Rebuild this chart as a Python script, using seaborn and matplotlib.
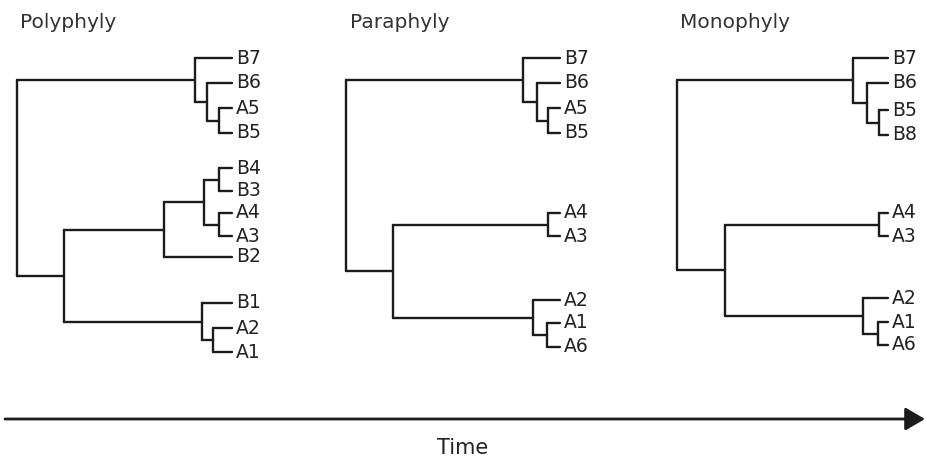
import pandas as pd
import matplotlib
matplotlib.use("Agg")
import matplotlib.pyplot as plt
from matplotlib.patches import FancyArrowPatch
import seaborn as sns

sns.set_theme(style='white')
plt.rcParams['font.family'] = ['DejaVu Sans']

# tips sit at depth 100 (present), root at depth 0
titles = ['Polyphyly', 'Paraphyly', 'Monophyly']

poly_leaves = ['B7', 'B6', 'A5', 'B5', 'B4', 'B3', 'A4', 'A3', 'B2', 'B1', 'A2', 'A1']
poly_leaf_y = [58, 83, 108, 133, 168, 191, 213, 236, 257, 303, 328, 352]
# (node depth, [children]) ; ints are leaf indices
poly_tree = (0, [(82.8, [0, (88.4, [1, (94.0, [2, 3])])]),
                 (21.9, [(68.4, [(87.0, [(94.0, [4, 5]), (94.0, [6, 7])]), 8]),
                         (86.0, [9, (91.2, [10, 11])])])])

para_leaves = ['B7', 'B6', 'A5', 'B5', 'A4', 'A3', 'A2', 'A1', 'A6']
para_leaf_y = [58, 83, 108, 133, 213, 236, 300, 323, 347]
para_tree = (0, [(82.7, [0, (89.3, [1, (94.4, [2, 3])])]),
                 (22.0, [(94.4, [4, 5]), (87.4, [6, (93.9, [7, 8])])])])

mono_leaves = ['B7', 'B6', 'B5', 'B8', 'A4', 'A3', 'A2', 'A1', 'A6']
mono_leaf_y = [58, 83, 110, 135, 213, 236, 298, 322, 345]
mono_tree = (0, [(83.4, [0, (90.0, [1, (95.7, [2, 3])])]),
                 (22.7, [(95.7, [4, 5]), (88.2, [6, (95.3, [7, 8])])])])

TIP = 100.0
W, H = 925, 459
line_col = '#1c1c1c'
text_col = '#222222'


def tree_segments(tree, leaf_y):
    rows = []

    def walk(n):
        if isinstance(n, int):
            return TIP, leaf_y[n]
        depth, kids = n
        pts = [walk(k) for k in kids]
        ys = [p[1] for p in pts]
        for kx, ky in pts:
            rows.append((depth, ky, kx, ky))
        rows.append((depth, min(ys), depth, max(ys)))
        return depth, (ys[0] + ys[-1]) / 2

    walk(tree)
    recs = []
    for i, (x0, y0, x1, y1) in enumerate(rows):
        recs.append({'seg': i, 'x': x0, 'y': y0})
        recs.append({'seg': i, 'x': x1, 'y': y1})
    return pd.DataFrame(recs)


panels = [(poly_tree, poly_leaves, poly_leaf_y),
          (para_tree, para_leaves, para_leaf_y),
          (mono_tree, mono_leaves, mono_leaf_y)]
# panel placement in pixels: root x, tip x, title x
root_px = [17, 346, 677]
tip_px = [232, 560, 888]
title_px = [20, 350, 680]

fig = plt.figure(figsize=(W / 100, H / 100), dpi=100)

for k, (tree, leaves, leaf_y) in enumerate(panels):
    ax = fig.add_axes([root_px[k] / W, 0, (tip_px[k] - root_px[k]) / W, 1])
    df = tree_segments(tree, leaf_y)
    sns.lineplot(data=df, x='x', y='y', units='seg', estimator=None, sort=False,
                 color=line_col, lw=1.7, legend=False, clip_on=False, ax=ax)
    ax.set_xlim(0, TIP)
    ax.set_ylim(H, 0)
    ax.set_axis_off()
    for lab, y in zip(leaves, leaf_y):
        ax.annotate(lab, (TIP, y), xytext=(3, 0), textcoords='offset points',
                    va='center', ha='left', fontsize=13.5, color=text_col,
                    annotation_clip=False)
    fig.text(title_px[k] / W, 1 - 28 / H, titles[k], fontsize=14.5,
             color='#333333', va='baseline', ha='left')

# time arrow
ya = 1 - 419 / H
arrow = FancyArrowPatch((5 / W, ya), (1.0, ya), transform=fig.transFigure,
                        arrowstyle='-|>,head_length=0.6,head_width=0.35',
                        mutation_scale=20, lw=2, color=line_col,
                        shrinkA=0, shrinkB=0)
fig.add_artist(arrow)
fig.text(463 / W, 1 - 454 / H, 'Time', fontsize=15, color=text_col,
         ha='center', va='baseline')

plt.savefig('out.png', dpi=100)
